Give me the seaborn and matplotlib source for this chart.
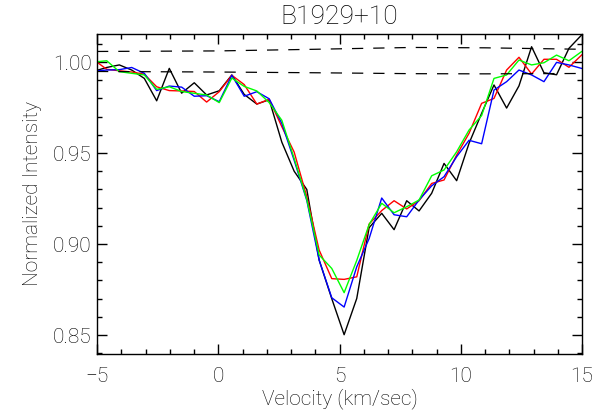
import numpy as np
import pandas as pd
import seaborn as sns
import matplotlib
matplotlib.use("Agg")
from matplotlib import pyplot as plt
from matplotlib.ticker import MultipleLocator, FormatStrFormatter

# channel velocities (km/sec)
velocity = [-5.11, -4.60, -4.08, -3.57, -3.05, -2.54, -2.02, -1.51, -0.99, -0.48,
            0.04, 0.56, 1.07, 1.59, 2.10, 2.62, 3.13, 3.65, 4.16, 4.68,
            5.19, 5.71, 6.22, 6.74, 7.25, 7.77, 8.28, 8.80, 9.31, 9.83,
            10.34, 10.86, 11.37, 11.89, 12.40, 12.92, 13.43, 13.95, 14.46, 14.98, 15.49]

spec_black = [0.995, 0.997, 0.9984, 0.9956, 0.991, 0.9787, 0.9965, 0.9829, 0.9886, 0.9819,
              0.9842, 0.9929, 0.9822, 0.9769, 0.9793, 0.956, 0.940, 0.930, 0.8912, 0.870,
              0.8502, 0.8701, 0.909, 0.9169, 0.9079, 0.9238, 0.9182, 0.9279, 0.9443, 0.9348,
              0.9553, 0.9718, 0.9874, 0.9747, 0.9869, 1.0084, 0.9941, 0.993, 1.0075, 1.0148, 1.025]
spec_red = [1.001, 0.996, 0.9952, 0.9945, 0.9933, 0.9864, 0.9843, 0.9841, 0.9838, 0.978,
            0.9837, 0.9927, 0.9876, 0.9769, 0.9795, 0.9645, 0.9505, 0.926, 0.8967, 0.881,
            0.8806, 0.882, 0.911, 0.9184, 0.9238, 0.9193, 0.9238, 0.9333, 0.9352, 0.9489,
            0.9608, 0.9773, 0.980, 0.9956, 1.0026, 0.9934, 1.0015, 1.0015, 0.9971, 1.0038, 1.009]
spec_blue = [0.995, 0.9956, 0.9958, 0.997, 0.9938, 0.9843, 0.9868, 0.9862, 0.9812, 0.9815,
             0.9782, 0.9927, 0.9812, 0.9837, 0.9798, 0.9663, 0.946, 0.924, 0.8912, 0.8705,
             0.8654, 0.8875, 0.903, 0.9253, 0.9161, 0.915, 0.9242, 0.932, 0.937, 0.948,
             0.957, 0.9551, 0.9846, 0.9892, 0.9956, 0.9929, 0.9892, 0.9998, 0.9984, 0.9965, 0.995]
spec_green = [1.000, 1.0007, 0.9947, 0.9938, 0.9929, 0.985, 0.9864, 0.9838, 0.9828, 0.9819,
              0.9777, 0.9912, 0.9866, 0.9841, 0.9777, 0.968, 0.947, 0.9245, 0.894, 0.8866,
              0.8733, 0.891, 0.9107, 0.9224, 0.9172, 0.9205, 0.9242, 0.9375, 0.9407, 0.9507,
              0.9626, 0.9706, 0.991, 0.9929, 1.0011, 0.9984, 0.9996, 1.0038, 1.0007, 1.0057, 1.009]

# dashed reference levels
level_v = [-5, 0, 4, 8, 11, 15]
level_upper = [1.0058, 1.0061, 1.0070, 1.0080, 1.0078, 1.0070]
level_lower = [0.9948, 0.9945, 0.9941, 0.9936, 0.9935, 0.9937]

series = {'black': spec_black, 'red': spec_red, 'blue': spec_blue, 'green': spec_green}
df = pd.DataFrame({'velocity': velocity, **series})
long_df = df.melt(id_vars='velocity', var_name='series', value_name='intensity')

sns.set_theme(style="ticks")
plt.rcParams['font.family'] = ['Roboto', 'DejaVu Sans']
plt.rcParams['font.weight'] = 'light'
plt.rcParams['axes.titleweight'] = 'light'
plt.rcParams['axes.labelweight'] = 'light'
plt.rcParams['axes.unicode_minus'] = True

fig = plt.figure(figsize=(5.93, 4.19), dpi=100)
ax = fig.add_axes([0.1636, 0.1551, 0.8179, 0.7638])

palette = {'black': '#000000', 'red': '#ff0000', 'blue': '#0000ff', 'green': '#00ff00'}
sns.lineplot(data=long_df, x='velocity', y='intensity', hue='series',
             hue_order=['black', 'red', 'blue', 'green'], palette=palette,
             estimator=None, sort=False, legend=False, lw=1.0, ax=ax)

for lvl in (level_upper, level_lower):
    sns.lineplot(x=level_v, y=lvl, color='black', lw=0.9,
                 linestyle=(0, (9, 8)), ax=ax)

ax.set_xlim(-5, 15)
ax.set_ylim(0.8396, 1.0154)
ax.xaxis.set_major_locator(MultipleLocator(5))
ax.xaxis.set_minor_locator(MultipleLocator(1))
ax.yaxis.set_major_locator(MultipleLocator(0.05))
ax.yaxis.set_minor_locator(MultipleLocator(0.01))
ax.yaxis.set_major_formatter(FormatStrFormatter('%.2f'))

ax.tick_params(which='both', direction='in', top=True, right=True,
               width=1, color='black', labelsize=15, labelcolor='black')
ax.tick_params(which='major', length=7)
ax.tick_params(which='minor', length=3.5)
ax.tick_params(axis='x', pad=9)
ax.tick_params(axis='y', pad=4)
for sp in ax.spines.values():
    sp.set_color('black')
    sp.set_linewidth(1)

ax.set_title('B1929+10', fontsize=19, pad=7, color='black', fontweight='light')
ax.set_xlabel('Velocity (km/sec)', fontsize=15, labelpad=2, color='black', fontweight='light')
ax.set_ylabel('Normalized Intensity', fontsize=15, labelpad=8, color='black', fontweight='light')

fig.savefig('out.png', dpi=100)
